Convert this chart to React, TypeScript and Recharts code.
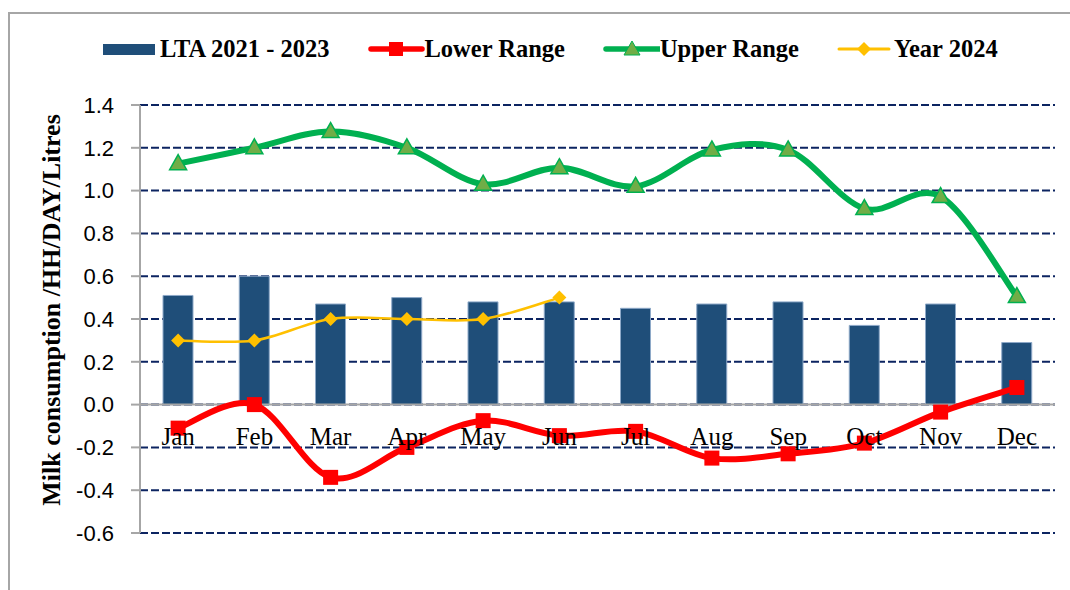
import { ComposedChart, Bar, Line, XAxis, YAxis, CartesianGrid, ReferenceLine } from 'recharts'

const months = ['Jan', 'Feb', 'Mar', 'Apr', 'May', 'Jun', 'Jul', 'Aug', 'Sep', 'Oct', 'Nov', 'Dec']
const lta = [0.51, 0.6, 0.47, 0.5, 0.48, 0.48, 0.45, 0.47, 0.48, 0.37, 0.47, 0.29]
const lowerRange = [-0.11, 0.0, -0.34, -0.2, -0.075, -0.145, -0.125, -0.25, -0.23, -0.18, -0.035, 0.08]
const upperRange = [1.126, 1.2, 1.276, 1.2, 1.03, 1.107, 1.02, 1.19, 1.19, 0.916, 0.972, 0.505]
const year2024 = [0.3, 0.3, 0.4, 0.4, 0.4, 0.5, null, null, null, null, null, null]
const yTicks = [-0.6, -0.4, -0.2, 0, 0.2, 0.4, 0.6, 0.8, 1.0, 1.2, 1.4]

const data = months.map((m, i) => ({
  month: m,
  lta: lta[i],
  lower: lowerRange[i],
  upper: upperRange[i],
  y2024: year2024[i],
}))

const W = 1060
const H = 576
const X_AXIS_H = 30
const MARGIN = { top: 91, right: 15, left: 0, bottom: 57 - X_AXIS_H }
const Y_MIN = -0.6
const Y_MAX = 1.4
const PLOT_H = H - MARGIN.top - MARGIN.bottom - X_AXIS_H
// distance from the bottom of the plot up to the zero line
const ZERO_OFFSET = (PLOT_H * (0 - Y_MIN)) / (Y_MAX - Y_MIN)

const BAR_COLOR = '#1f4e79'
const LOWER_COLOR = '#ff0000'
const UPPER_COLOR = '#00b050'
const YEAR_COLOR = '#ffc000'
const GRID_COLOR = '#0c2461'
const AXIS_GRAY = '#a6a6a6'
const SERIF = '"Liberation Serif", "Times New Roman", serif'
const SANS = '"Liberation Sans", Arial, sans-serif'

// Excel-like smoothing (Catmull-Rom through every point)
function excelCurve(context: any) {
  let xs: number[] = []
  let ys: number[] = []
  return {
    areaStart() {},
    areaEnd() {},
    lineStart() {
      xs = []
      ys = []
    },
    point(x: number, y: number) {
      xs.push(+x)
      ys.push(+y)
    },
    lineEnd() {
      const n = xs.length
      if (!n) return
      context.moveTo(xs[0], ys[0])
      for (let i = 0; i < n - 1; i++) {
        const x0 = i > 0 ? xs[i - 1] : xs[i]
        const y0 = i > 0 ? ys[i - 1] : ys[i]
        const x3 = i + 2 < n ? xs[i + 2] : xs[i + 1]
        const y3 = i + 2 < n ? ys[i + 2] : ys[i + 1]
        context.bezierCurveTo(
          xs[i] + (xs[i + 1] - x0) / 6,
          ys[i] + (ys[i + 1] - y0) / 6,
          xs[i + 1] - (x3 - xs[i]) / 6,
          ys[i + 1] - (y3 - ys[i]) / 6,
          xs[i + 1],
          ys[i + 1]
        )
      }
    },
  }
}

function SquareDot(props: any) {
  const { cx, cy } = props
  if (cx == null || cy == null) return null
  return <rect x={cx - 7.5} y={cy - 7.5} width={15} height={15} fill={LOWER_COLOR} />
}

function TriangleDot(props: any) {
  const { cx, cy } = props
  if (cx == null || cy == null) return null
  return (
    <path
      d={`M${cx},${cy - 9} L${cx + 8.5},${cy + 6} L${cx - 8.5},${cy + 6} Z`}
      fill="#70ad47"
      stroke={UPPER_COLOR}
      strokeWidth={1.5}
    />
  )
}

function DiamondDot(props: any) {
  const { cx, cy } = props
  if (cx == null || cy == null) return null
  return <path d={`M${cx},${cy - 7} L${cx + 7},${cy} L${cx},${cy + 7} L${cx - 7},${cy} Z`} fill={YEAR_COLOR} />
}

// month labels sit just under the zero line, like Excel's crossing axis
function MonthTick(props: any) {
  const { x, y, payload } = props
  return (
    <text x={x} y={y - ZERO_OFFSET + 40} textAnchor="middle" fontFamily={SERIF} fontSize={25} fill="#000">
      {payload.value}
    </text>
  )
}

function YTitle(props: any) {
  const { viewBox } = props
  const cx = viewBox.x + 41
  const cy = viewBox.y + viewBox.height / 2 - 9
  return (
    <text
      x={cx}
      y={cy}
      transform={`rotate(-90, ${cx}, ${cy})`}
      textAnchor="middle"
      dominantBaseline="central"
      fontFamily={SERIF}
      fontWeight="bold"
      fontSize={26}
      fill="#000"
    >
      Milk consumption /HH/DAY/Litres
    </text>
  )
}

function LegendItem({ label, kind }: { label: string; kind: string }) {
  let icon = null
  if (kind === 'bar') {
    icon = <rect x={0} y={5} width={52} height={11} fill={BAR_COLOR} />
  } else if (kind === 'lower') {
    icon = (
      <g>
        <line x1={3} y1={10} x2={54} y2={10} stroke={LOWER_COLOR} strokeWidth={5.5} strokeLinecap="round" />
        <rect x={21} y={3} width={14} height={14} fill={LOWER_COLOR} />
      </g>
    )
  } else if (kind === 'upper') {
    icon = (
      <g>
        <line x1={3} y1={10} x2={56} y2={10} stroke={UPPER_COLOR} strokeWidth={5.5} strokeLinecap="round" />
        <path d="M29,2 L37,16 L21,16 Z" fill="#70ad47" stroke={UPPER_COLOR} strokeWidth={1} />
      </g>
    )
  } else {
    icon = (
      <g>
        <line x1={2} y1={10} x2={52} y2={10} stroke={YEAR_COLOR} strokeWidth={3} strokeLinecap="round" />
        <path d="M27,3 L34,10 L27,17 L20,10 Z" fill={YEAR_COLOR} />
      </g>
    )
  }
  return (
    <div style={{ display: 'flex', alignItems: 'center' }}>
      <svg width={57} height={20}>
        {icon}
      </svg>
      <span style={{ fontFamily: SERIF, fontWeight: 'bold', fontSize: 24.5, color: '#000', lineHeight: '28px' }}>
        {label}
      </span>
    </div>
  )
}

export default function App() {
  return (
    <div
      style={{
        position: 'absolute',
        left: 8,
        top: 12,
        width: W + 10,
        height: H + 10,
        borderLeft: `2px solid ${AXIS_GRAY}`,
        borderTop: `2px solid ${AXIS_GRAY}`,
        background: '#fff',
      }}
    >
      <div
        style={{
          position: 'absolute',
          left: 93,
          top: 21,
          display: 'flex',
          gap: 38,
        }}
      >
        <LegendItem label="LTA 2021 - 2023" kind="bar" />
        <LegendItem label="Lower Range" kind="lower" />
        <LegendItem label="Upper Range" kind="upper" />
        <LegendItem label="Year 2024" kind="year" />
      </div>
      <ComposedChart width={W} height={H} data={data} margin={MARGIN}>
        <CartesianGrid vertical={false} stroke={GRID_COLOR} strokeWidth={2} strokeDasharray="8 3" />
        <XAxis
          dataKey="month"
          axisLine={false}
          tickLine={false}
          tickSize={0}
          tickMargin={0}
          height={X_AXIS_H}
          tick={<MonthTick />}
          interval={0}
        />
        <YAxis
          width={130}
          domain={[Y_MIN, Y_MAX]}
          ticks={yTicks}
          tickFormatter={(v: number) => v.toFixed(1)}
          axisLine={{ stroke: AXIS_GRAY, strokeWidth: 2 }}
          tickLine={{ stroke: AXIS_GRAY, strokeWidth: 2 }}
          tickSize={9}
          tickMargin={17}
          tick={{ fontFamily: SANS, fontSize: 22, fill: '#000' }}
          label={<YTitle />}
        />
        <ReferenceLine y={0} stroke={AXIS_GRAY} strokeWidth={2} />
        <Bar dataKey="lta" fill={BAR_COLOR} stroke="#8ea9c8" strokeWidth={1} barSize={30} isAnimationActive={false} />
        <Line
          dataKey="y2024"
          type={excelCurve as any}
          stroke={YEAR_COLOR}
          strokeWidth={2.5}
          dot={<DiamondDot />}
          activeDot={false}
          isAnimationActive={false}
        />
        <Line
          dataKey="lower"
          type={excelCurve as any}
          stroke={LOWER_COLOR}
          strokeWidth={6}
          dot={<SquareDot />}
          activeDot={false}
          isAnimationActive={false}
        />
        <Line
          dataKey="upper"
          type={excelCurve as any}
          stroke={UPPER_COLOR}
          strokeWidth={6}
          dot={<TriangleDot />}
          activeDot={false}
          isAnimationActive={false}
        />
      </ComposedChart>
    </div>
  )
}
